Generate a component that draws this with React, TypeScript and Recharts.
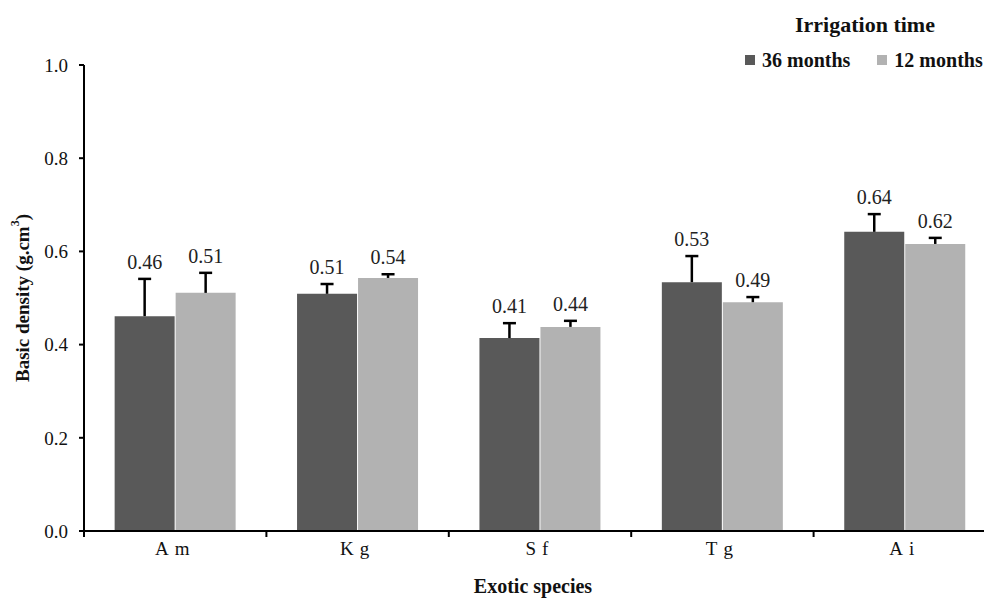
import { BarChart, Bar, XAxis, YAxis, LabelList, Legend } from "recharts";

const categories = ["Am", "Kg", "Sf", "Tg", "Ai"];
const months36 = [0.461, 0.509, 0.414, 0.534, 0.642];
const months12 = [0.511, 0.543, 0.438, 0.491, 0.616];
const err36 = [0.08, 0.021, 0.032, 0.056, 0.038];
const err12 = [0.043, 0.008, 0.013, 0.011, 0.013];
const labels36 = ["0.46", "0.51", "0.41", "0.53", "0.64"];
const labels12 = ["0.51", "0.54", "0.44", "0.49", "0.62"];
const yTicks = [0, 0.2, 0.4, 0.6, 0.8, 1.0];
const seriesOrder = ["m36", "m12"];

const DARK = "#595959";
const LIGHT = "#b2b2b2";
const SERIF = '"Liberation Serif", "Times New Roman", serif';

const data = categories.map((name, i) => ({
  name,
  m36: months36[i], m12: months12[i],
}));

// error whisker (upper only) + value label, sized from the bar's own px/unit
function errLabel(errs: number[], labels: string[]) {
  return (p: any) => {
    const x = Number(p.x), y = Number(p.y), w = Number(p.width), h = Number(p.height), v = Number(p.value);
    const i = p.index as number;
    const cx = x + w / 2;
    const top = y - errs[i] * (h / v);
    return (
      <g>
        <line x1={cx} x2={cx} y1={y} y2={top} stroke="#000" strokeWidth={2.5} />
        <line x1={cx - 6.5} x2={cx + 6.5} y1={top} y2={top} stroke="#000" strokeWidth={2.5} />
        <text x={cx} y={top - 10} textAnchor="middle" fontSize={20} fontFamily={SERIF} fill="#222">{labels[i]}</text>
      </g>
    );
  };
}

function CatTick(p: any) {
  const { x, y, payload } = p;
  const off = payload.offset ?? 0;
  return (
    <g>
      <line x1={x - off} x2={x - off} y1={y} y2={y + 6} stroke="#000" strokeWidth={2} />
      {payload.index === categories.length - 1 && (
        <line x1={x + off} x2={x + off} y1={y} y2={y + 6} stroke="#000" strokeWidth={2} />
      )}
      <text x={x} y={y + 24} textAnchor="middle" fontSize={19} fontFamily={SERIF} fill="#111" letterSpacing={6}>{payload.value}</text>
    </g>
  );
}

function LegendBox({ payload }: any) {
  const items = [...(payload ?? [])].sort((a: any, b: any) => seriesOrder.indexOf(a.dataKey) - seriesOrder.indexOf(b.dataKey));
  return (
    <div style={{ fontFamily: SERIF, fontWeight: "bold", color: "#111", width: 244, whiteSpace: "nowrap" }}>
      <div style={{ fontSize: 22, marginLeft: 55, lineHeight: "26px" }}>Irrigation time</div>
      <div style={{ display: "flex", alignItems: "center", fontSize: 20, lineHeight: "22px", marginTop: 11, marginLeft: 5 }}>
        {items.map((e: any) => (
          <div key={e.value} style={{ display: "flex", alignItems: "center", marginRight: 27 }}>
            <span style={{ width: 10, height: 10, background: e.color, display: "inline-block", marginRight: 7 }} />
            <span>{e.value}</span>
          </div>
        ))}
      </div>
    </div>
  );
}

export default function App() {
  return (
    <div style={{ position: "fixed", left: 0, top: 0, width: 984, height: 599, overflow: "hidden", background: "#fff" }}>
      <BarChart width={1010} height={599} data={data} margin={{ top: 65, right: 14, bottom: 0, left: 0 }}
        barGap={1} barCategoryGap="16.8%">
        <YAxis domain={[0, 1]} ticks={yTicks} width={84} tickFormatter={(v: number) => v.toFixed(1)}
          tickSize={5} tickMargin={11} axisLine={{ stroke: "#000", strokeWidth: 2 }} tickLine={{ stroke: "#000", strokeWidth: 2 }}
          tick={{ fontSize: 19, fontFamily: SERIF, fill: "#111" }}
          label={{
            content: (p: any) => {
              const vb = p.viewBox;
              const cx = 22, cy = vb.y + vb.height / 2;
              return (
                <text x={cx} y={cy} transform={`rotate(-90 ${cx} ${cy})`} textAnchor="middle" dominantBaseline="central"
                  fontSize={19} fontWeight="bold" fontFamily={SERIF} fill="#111">
                  Basic density  (g.cm<tspan dy={-7} fontSize={12}>3</tspan><tspan dy={7}>)</tspan>
                </text>
              );
            },
          }}
        />
        <XAxis dataKey="name" height={68} tickSize={0} tickMargin={0} interval={0}
          axisLine={{ stroke: "#000", strokeWidth: 2 }} tickLine={false} tick={<CatTick />}
          label={{
            content: (p: any) => {
              const vb = p.viewBox;
              return (
                <text x={vb.x + vb.width / 2 - 7} y={vb.y + 62} textAnchor="middle" fontSize={20} fontWeight="bold" fontFamily={SERIF} fill="#111">
                  Exotic species
                </text>
              );
            },
          }}
        />
        <Legend layout="horizontal" verticalAlign="middle" content={<LegendBox />}
          wrapperStyle={{ top: 12, left: 740, width: 244 }} />
        <Bar dataKey="m36" name="36 months" fill={DARK} isAnimationActive={false}>
          <LabelList dataKey="m36" content={errLabel(err36, labels36)} />
        </Bar>
        <Bar dataKey="m12" name="12 months" fill={LIGHT} isAnimationActive={false}>
          <LabelList dataKey="m12" content={errLabel(err12, labels12)} />
        </Bar>
      </BarChart>
    </div>
  );
}
